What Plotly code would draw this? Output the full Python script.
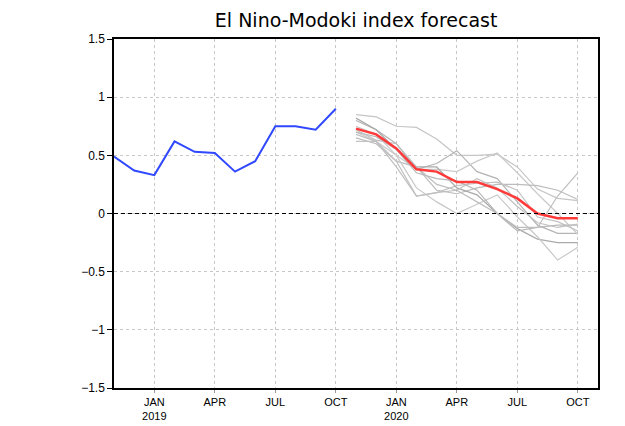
import plotly.graph_objects as go

# Month index: 0 = Nov 2018 ... 24 = Nov 2020
obs_months = list(range(0, 12))
obs_values = [0.49, 0.37, 0.33, 0.62, 0.53, 0.52, 0.36, 0.45, 0.75, 0.75, 0.72, 0.90]

fc_months = list(range(12, 24))
fc_mean = [0.73, 0.68, 0.56, 0.38, 0.36, 0.27, 0.27, 0.21, 0.13, 0.00, -0.04, -0.04]

member_1 = [0.85, 0.83, 0.75, 0.74, 0.64, 0.50, 0.50, 0.51, 0.40, 0.21, 0.13, 0.11]
member_2 = [0.80, 0.72, 0.60, 0.38, 0.43, 0.54, 0.36, 0.30, 0.10, -0.10, -0.17, -0.17]
member_3 = [0.70, 0.62, 0.50, 0.38, 0.38, 0.36, 0.45, 0.52, 0.35, 0.17, 0.00, -0.18]
member_4 = [0.65, 0.60, 0.45, 0.40, 0.20, 0.17, 0.22, 0.25, 0.25, 0.24, 0.20, 0.12]
member_5 = [0.62, 0.62, 0.45, 0.15, 0.18, 0.24, 0.26, 0.27, 0.20, -0.03, -0.07, -0.15]
member_6 = [0.82, 0.72, 0.55, 0.40, 0.40, 0.22, 0.16, 0.00, -0.13, -0.22, -0.25, -0.25]
member_7 = [0.75, 0.68, 0.50, 0.22, 0.10, 0.00, 0.08, 0.16, -0.03, -0.20, -0.40, -0.29]
member_8 = [0.70, 0.66, 0.55, 0.35, 0.30, 0.28, 0.20, 0.00, -0.15, -0.12, -0.10, -0.10]
member_9 = [0.68, 0.62, 0.40, 0.15, 0.18, 0.20, 0.30, 0.22, 0.06, -0.08, -0.12, -0.09]
member_10 = [0.72, 0.63, 0.60, 0.40, 0.25, 0.20, 0.10, 0.00, -0.12, -0.12, 0.15, 0.35]
members = [member_1, member_2, member_3, member_4, member_5,
           member_6, member_7, member_8, member_9, member_10]
member_colors = ["#c6c6c6", "#b4b4b4", "#cacaca", "#bcbcbc", "#c2c2c2",
                 "#aaaaaa", "#c8c8c8", "#b8b8b8", "#c0c0c0", "#bebebe"]

tick_vals = [2, 5, 8, 11, 14, 17, 20, 23]
tick_text = ["JAN<br>2019", "APR", "JUL", "OCT", "JAN<br>2020", "APR", "JUL", "OCT"]
y_ticks = [-1.5, -1, -0.5, 0, 0.5, 1, 1.5]
y_text = ["\u22121.5", "\u22121", "\u22120.5", "0", "0.5", "1", "1.5"]

fig = go.Figure()

for m, c in zip(members, member_colors):
    fig.add_trace(go.Scatter(x=fc_months, y=m, mode="lines",
                             line=dict(color=c, width=1.2), showlegend=False))

fig.add_trace(go.Scatter(x=fc_months, y=fc_mean, mode="lines",
                         line=dict(color="#ff3a3a", width=2.5), showlegend=False))
fig.add_trace(go.Scatter(x=obs_months, y=obs_values, mode="lines",
                         line=dict(color="#3048ff", width=2), showlegend=False))

fig.add_hline(y=0, line=dict(color="black", width=1, dash="4px,3px"))

fig.update_layout(
    width=625, height=426,
    margin=dict(l=106, r=35, t=31, b=35),
    paper_bgcolor="white", plot_bgcolor="white",
    title=dict(text="El Nino-Modoki index forecast", x=0.557, xanchor="center",
               y=0.97, yanchor="middle",
               font=dict(family="DejaVu Sans", size=19, color="black")),
    font=dict(family="Liberation Sans", size=11, color="black"),
)
fig.update_xaxes(range=[0, 24], tickvals=tick_vals, ticktext=tick_text,
                 showgrid=True, gridcolor="#c8c8c8", griddash="dot", gridwidth=1,
                 showline=True, linecolor="black", linewidth=1.5, mirror=True,
                 ticks="outside", ticklen=3, tickcolor="#999999", zeroline=False,
                 tickfont=dict(size=11))
fig.update_yaxes(range=[-1.5, 1.5], tickvals=y_ticks, ticktext=y_text,
                 showgrid=True, gridcolor="#c8c8c8", griddash="dot", gridwidth=1,
                 showline=True, linecolor="black", linewidth=1.5, mirror=True,
                 ticks="outside", ticklen=5, tickcolor="black", zeroline=False,
                 tickfont=dict(size=12))

fig.write_html("out.html")
